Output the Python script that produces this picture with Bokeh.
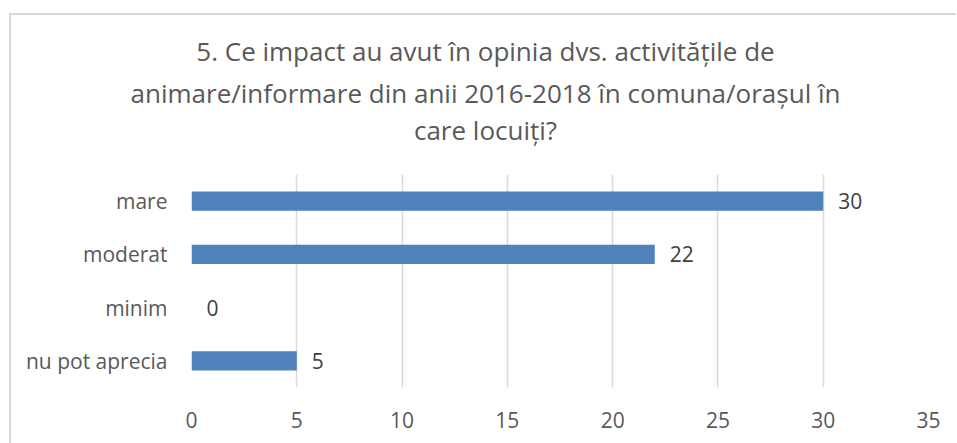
from bokeh.plotting import figure
from bokeh.layouts import column, row
from bokeh.models import Range1d, FactorRange, ColumnDataSource, LabelSet, SingleIntervalTicker
from bokeh.core.properties import value
from bokeh.embed import file_html
from bokeh.resources import INLINE

categories = ["mare", "moderat", "minim", "nu pot aprecia"]
values = [30, 22, 0, 5]
title_lines = [
    "5. Ce impact au avut în opinia dvs. activitățile de",
    "animare/informare din anii 2016-2018 în comuna/orașul în",
    "care locuiți?",
]
x_max = 35
x_step = 5

FONT = "Open Sans"
OX, OY, BW = 9, 13, 2          # chart box offset on the page and border width
W = 945                         # inner width
TITLE_H = 174 - OY - BW         # title band height
PLOT_H = 443 - 174              # plot figure height

# ---- title band ----
tf = figure(width=W, height=TITLE_H, output_backend="svg", toolbar_location=None,
            x_range=Range1d(0, W), y_range=Range1d(TITLE_H, 0),
            x_axis_type=None, y_axis_type=None,
            min_border_left=0, min_border_right=0, min_border_top=0, min_border_bottom=0)
tf.xgrid.grid_line_color = None
tf.ygrid.grid_line_color = None
tf.outline_line_color = None
tsrc = ColumnDataSource(dict(x=[485 - OX - BW] * 3,
                             y=[50 - OY - BW, 92 - OY - BW, 129 - OY - BW],
                             t=title_lines))
tf.text(x="x", y="y", text="t", source=tsrc, text_align="center", text_baseline="middle",
        text_font=value(FONT), text_font_size=value("26px"), text_color="#595959")

# ---- bar chart ----
src = ColumnDataSource(dict(cat=categories, val=values, lbl=[str(v) for v in values]))
p = figure(width=W, height=PLOT_H, output_backend="svg", toolbar_location=None,
           y_range=FactorRange(factors=list(reversed(categories))),
           x_range=Range1d(0, x_max),
           min_border_left=191 - OX - BW, min_border_right=(OX + BW + W) - 928,
           min_border_bottom=443 - 387, min_border_top=0)

p.hbar(y="cat", right="val", left=0, height=0.36, source=src,
       fill_color="#4F81BD", line_color=None)

labels = LabelSet(x="val", y="cat", text="lbl", source=src, x_offset=15,
                  text_baseline="middle", text_align="left",
                  text_font=value(FONT), text_font_size=value("21px"), text_color="#404040")
p.add_layout(labels)

p.xaxis.ticker = SingleIntervalTicker(interval=x_step)
for ax in (p.xaxis[0], p.yaxis[0]):
    ax.axis_line_color = None
    ax.major_tick_line_color = None
    ax.minor_tick_line_color = None
    ax.major_label_text_font = FONT
    ax.major_label_text_font_size = "21px"
    ax.major_label_text_color = "#595959"
p.yaxis.major_label_standoff = 18
p.xaxis.major_label_standoff = 18

p.xgrid.grid_line_color = "#d9d9d9"
p.xgrid.grid_line_width = 1.5
p.ygrid.grid_line_color = None
p.outline_line_color = None

layout = column(row(tf), p, spacing=0, margin=(OY, 0, 0, OX),
                styles={"border-left": f"{BW}px solid #d9d9d9",
                        "border-top": f"{BW}px solid #d9d9d9"})

open("out.html", "w").write(file_html(layout, INLINE))
